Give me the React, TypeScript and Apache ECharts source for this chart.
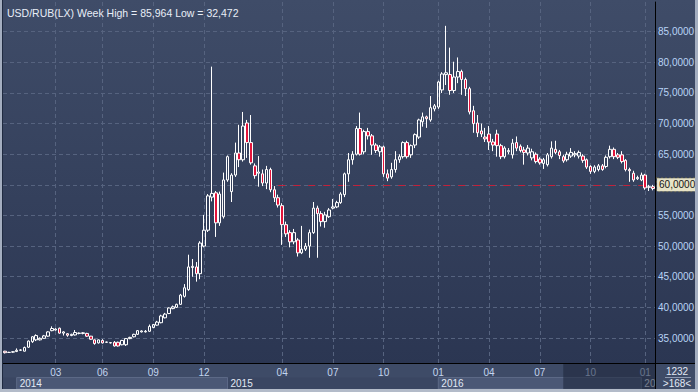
import React, { useEffect, useRef } from 'react';
import * as echarts from 'echarts';

// Weekly USD/RUB candles (open, close, high, low)
const OPEN = [32.85,32.65,32.7,32.8,33,32.85,33.5,34.4,34.7,34.7,34.95,35.3,36.2,36.3,36.6,35.8,35.7,35.4,35.5,35.75,35.75,35.75,35.3,34.7,34.2,34.6,34.3,34.2,34.3,34.3,33.9,33.9,34.9,35.2,35.6,36,36,36.1,36.7,37.1,37.5,38.3,39,39.8,40,40.5,41.8,42.9,46.5,46.6,45.5,50,52.6,58,58.7,53.8,54.8,60.8,58.9,61.6,65.2,64.1,70.1,66.9,63.1,61.9,61.8,60.3,62.5,59.2,57.9,56.6,53.5,52.2,50.7,51,48.9,49.5,50,52.2,56.2,55.3,54,54.8,56.2,56.4,57.1,58.4,61.8,64.1,65,69.2,65.4,68.7,68,66.5,65.4,66.2,61.8,61.3,62.5,64.1,64.6,66.9,64.9,66.5,67.8,70.3,71.1,70.6,72.4,72.7,75.5,78,78,75.4,77.6,78.5,77.2,75.7,72.1,70.1,68.8,67.8,68.3,67,68.3,66.4,64.6,65.4,64.9,66.9,66.3,65.7,65.2,64.4,65,64.2,63.5,63.3,64.6,65.8,65.4,64.6,64.1,64.7,64.9,64.7,64.7,64.1,63,62.2,62.5,63.1,63,64.6,65.8,64.9,64.9,64,62.5,61.9,61,60.8,61.6,59.6,59.7];
const CLOSE = [32.6,32.65,32.75,33,33.05,33.45,34.5,35.2,35.4,34.95,35.35,36,36.55,36.45,35.8,36,35.45,35.6,35.9,35.8,35.85,35.3,34.8,34.1,34.7,34.2,34.35,34.25,33.7,33.7,34.6,34.9,35.1,35.6,36.2,36.15,36.1,36.9,37.2,37.6,38.6,38.9,39.9,40.1,40.5,42,43.2,46.6,46.7,45.5,50.5,52.6,58.2,58.6,53.8,58.5,60.8,64.6,61.6,65.2,64.1,69.6,66.9,63.6,61.5,62.1,60.3,62.5,59.2,57.9,56.7,53.5,52,50.7,52.2,48.9,49.5,50,52.2,56.2,55.3,54,55.1,55.9,56.4,57.1,58.5,61.8,64.1,65,69.2,65,68.7,68,66.5,65.6,66.2,61.8,61.1,62.5,64.1,64.6,66.9,64.6,66.4,68.2,70.6,71.1,70.8,72.6,72.9,76.8,78.1,78.3,75.4,77.6,78.5,77.2,75.7,71.9,70,68.5,68.3,67.5,67,66.5,66.4,64.6,66,65.6,66.8,66,65.6,65.3,66,65.4,63.8,63.6,64.1,64.9,66,65.3,64.8,63.9,65,65.3,65.1,65.3,64,62.9,62.2,62.9,63.1,62.5,64.5,65.8,64.6,64.5,63.8,62.5,62.3,60.8,61.2,61.6,59.5,59.7,59.4];
const HIGH = [32.9,32.75,32.85,33.3,33.15,33.6,34.6,35.3,35.6,35.1,35.5,36.1,36.9,36.6,36.7,36.1,35.8,35.7,36.3,35.9,35.95,35.85,35.35,34.75,34.75,34.8,34.4,34.3,34.5,34.4,34.7,35,35.2,35.7,36.3,36.25,36.3,37.2,37.3,37.8,38.8,39.1,40,40.3,40.6,42.2,43.8,48.6,47.9,47.4,50.8,55.1,58.5,79.3,59,58.9,62,64.8,61.9,66.9,69.8,71.9,70.6,71.4,63.5,64.7,62.5,63.1,62.8,59.8,58.4,57,54,52.6,52.8,51.3,53.3,50.5,52.7,57.2,56.6,55.7,55.6,56.2,57.7,57.4,58.8,62,65.2,65.5,69.6,71.8,69,69.3,68.3,66.8,66.5,66.4,62.5,63.6,65.5,65,67.1,67.2,66.6,68.4,70.8,71.8,71.3,74.5,73.2,77,78.4,85.96,82.4,80.1,80.8,78.8,77.5,76,72.9,71.4,70,69.3,69.6,67.5,69,66.7,66.3,66,67.5,67.9,66.6,66.2,66.5,65.9,65.3,64.5,64.4,65.2,67.1,67.2,65.7,64.9,65.4,66,65.5,65.6,65,64.3,63.2,63.2,63.4,63.4,64.8,66.4,66.1,65.2,65.5,64.2,62.8,62.3,61.5,62,61.8,60,60];
const LOW = [32.47,32.55,32.6,32.7,32.9,32.8,33.4,34.2,34.5,34.6,34.9,35.2,36.1,36.2,35.7,35.4,35.2,35.3,35.4,35.6,35.6,35.2,34.7,33.9,34.1,34.1,34.2,34.1,33.6,33.6,33.8,33.7,34.8,35.1,35.5,35.9,35.9,36,36.6,37,37.4,38.2,38.9,39.7,39.9,40.4,41.6,42.7,45,44.2,44.6,49.8,52.3,57.3,51.5,53.3,54.5,60.5,57.2,61.3,62.9,63.8,64.4,63.3,61,59.7,59.8,59.3,58.8,57.2,56.3,50.2,51.5,49.8,50.3,48.3,48.7,49.2,48.1,52,48.1,53.2,53,54.6,56,56.2,56.9,58,60.5,63.3,64.8,64.8,65,67.4,64.9,65.2,64.6,61.3,60.6,61,62,63.6,64.3,64.3,64.4,66,67.5,69.5,69.3,70.3,72,72.4,75,76.3,74.7,75,76.6,74.7,74.5,71.5,68.5,67.8,67.8,67,65.7,65.5,64.6,64.2,64.3,65,64.3,65.5,65.3,63.3,64.8,64,63.5,63.3,62.6,63,64.3,65,64.2,63.6,63.8,64.4,64.5,64.3,63.6,62.6,61.8,61.9,62.2,62.3,62.7,64.3,64.2,64.2,63.5,62.2,60.5,60.5,60.8,60.6,59.2,59,59.1];

// x-axis tick labels: [week index, label]
const MONTH_TICKS: [number, string][] = [[13,'03'],[25,'06'],[38,'09'],[51,'12'],[71,'04'],[84,'07'],[97,'10'],[111,'01'],[124,'04'],[137,'07'],[150,'10'],[164,'01']];
const YEAR_BANDS: [number, string][] = [[3,'2014'],[57,'2015'],[111,'2016'],[163,'2017']];
const SHADE_START = 143;
const REF_LEVEL = 60;
const REF_START = 70;
const TITLE = 'USD/RUB(LX) Week High = 85,964 Low = 32,472';
const TOTAL_BARS = '1232';
const VISIBLE_BARS = '>168<';

const W = 698;
const H = 392;
const FONT = '"Liberation Sans", Arial, sans-serif';

const fmt = (v: number) => v.toFixed(4).replace('.', ',');

export default function App() {
  const ref = useRef<HTMLDivElement>(null);
  useEffect(() => {
    const el = ref.current!;
    const chart = echarts.init(el, null, { renderer: 'svg', width: W, height: H });
    const categories = OPEN.map((_, i) => String(i));
    const candles = OPEN.map((o, i) => [o, CLOSE[i], LOW[i], HIGH[i]]);
    const last = categories.length - 1;

    chart.setOption({
      animation: false,
      backgroundColor: 'transparent',
      textStyle: { fontFamily: FONT },
      title: {
        text: TITLE,
        left: 2,
        top: 2,
        textStyle: { fontSize: 10.5, fontWeight: 'normal', color: '#e8eef7', fontFamily: FONT },
      },
      grid: { left: 3, right: 43, top: 2, bottom: 29 },
      xAxis: {
        type: 'category',
        data: categories,
        boundaryGap: true,
        axisLine: { show: true, lineStyle: { color: '#000', width: 1 } },
        axisTick: { show: false },
        splitLine: { show: false },
        axisLabel: {
          interval: 0,
          margin: 4,
          fontSize: 10,
          color: '#c3d5ef',
          fontFamily: FONT,
          formatter: (_v: string, idx: number) => {
            const t = MONTH_TICKS.find((m) => m[0] === idx);
            return t ? t[1] : '';
          },
        },
      },
      yAxis: {
        type: 'value',
        position: 'right',
        min: 30.92,
        max: 89.85,
        splitNumber: 12,
        scale: true,
        axisLine: { show: true, lineStyle: { color: '#000', width: 1 } },
        axisTick: { show: false },
        splitLine: { show: true, showMinLine: false, showMaxLine: false, lineStyle: { color: '#56637f', type: [4, 3], width: 1 } },
        axisLabel: {
          margin: 3,
          fontSize: 10,
          color: '#b9d4f6',
          fontFamily: FONT,
          showMinLabel: false,
          showMaxLabel: false,
          formatter: (v: number) => (Math.abs(v % 5) > 0.001 || v === REF_LEVEL ? '' : fmt(v)),
        },
      },
      series: [
        {
          type: 'candlestick',
          data: candles,
          barWidth: 3,
          itemStyle: {
            color: 'transparent',
            color0: '#e3143b',
            borderColor: '#ffffff',
            borderColor0: '#ffffff',
            borderWidth: 1,
          },
          markLine: {
            silent: true,
            z: 1,
            symbol: ['none', 'none'],
            label: { show: false },
            data: [
              ...MONTH_TICKS.map(([i]) => ({
                xAxis: i,
                lineStyle: { color: '#56637f', type: [4, 3], width: 1 },
                label: { show: false },
              })),
              [
                {
                  coord: [REF_START, REF_LEVEL],
                  lineStyle: { color: '#c3213a', type: [7, 8], width: 1 },
                  label: {
                    show: true,
                    position: 'end',
                    distance: 4,
                    formatter: fmt(REF_LEVEL),
                    fontSize: 10,
                    fontFamily: FONT,
                    color: '#151515',
                    backgroundColor: '#e7e3c7',
                    borderColor: '#5d5c4a',
                    borderWidth: 1,
                    borderType: 'dotted',
                    padding: [2, 1, 1, 2],
                  },
                },
                { coord: [last, REF_LEVEL] },
              ],
            ],
          },
        },
      ],
    });

    const px = (i: number) => chart.convertToPixel({ xAxisIndex: 0 }, i) as number;
    const plotRight = W - 43;
    const axisY = H - 29;
    const panelBottom = 389;
    const yearTop = 377.5;

    const graphics: any[] = [
      // bottom panel background
      { type: 'rect', z: -20, silent: true, shape: { x: 0, y: axisY, width: W, height: H - axisY }, style: { fill: '#3e4b67' } },
      { type: 'rect', z: -19, silent: true, shape: { x: 3, y: yearTop, width: plotRight - 3, height: panelBottom - yearTop }, style: { fill: '#3a4662' } },
    ];
    YEAR_BANDS.forEach(([i, label], k) => {
      const x0 = px(i);
      const next = YEAR_BANDS[k + 1];
      const x1 = next ? px(next[0]) : plotRight;
      if (k % 2 === 0) {
        graphics.push({
          type: 'rect', z: -18, silent: true,
          shape: { x: x0, y: yearTop, width: x1 - x0, height: panelBottom - yearTop },
          style: { fill: '#4b5876', stroke: '#5c6986', lineWidth: 1 },
        });
      } else {
        graphics.push({
          type: 'line', z: -18, silent: true,
          shape: { x1: x0, y1: yearTop, x2: x0, y2: panelBottom },
          style: { stroke: '#5c6986', lineWidth: 1 },
        });
      }
      graphics.push({
        type: 'text', z: 4, silent: true, x: x0 + 3, y: (yearTop + panelBottom) / 2 + 0.5,
        style: {
          text: label, fill: '#e2e9f4', fontSize: 10, fontFamily: FONT, verticalAlign: 'middle', align: 'left',
          width: Math.max(8, x1 - x0), overflow: 'truncate', ellipsis: '',
        },
      });
    });
    const sx = px(SHADE_START);
    graphics.push(
      { type: 'rect', z: 8, silent: true, shape: { x: sx, y: axisY + 1, width: plotRight - sx, height: panelBottom - axisY - 1 }, style: { fill: 'rgba(28,36,56,0.55)' } },
      // right box under the value axis
      { type: 'rect', z: 9, silent: true, shape: { x: plotRight + 0.5, y: axisY + 0.5, width: W - plotRight - 3, height: panelBottom - axisY - 0.5 }, style: { fill: '#3e4b67' } },
      { type: 'line', z: 10, silent: true, shape: { x1: plotRight + 10, y1: 377.5, x2: plotRight + 36, y2: 377.5 }, style: { stroke: '#8d99b0', lineWidth: 1 } },
      { type: 'text', z: 10, silent: true, x: plotRight + 22, y: 371.5, style: { text: TOTAL_BARS, fill: '#e2e9f4', fontSize: 10, fontFamily: FONT, align: 'center', verticalAlign: 'middle' } },
      { type: 'text', z: 10, silent: true, x: plotRight + 22, y: 383.5, style: { text: VISIBLE_BARS, fill: '#e2e9f4', fontSize: 10, fontFamily: FONT, align: 'center', verticalAlign: 'middle' } },
      // frame and dividing lines
      { type: 'line', z: 11, silent: true, shape: { x1: 2, y1: axisY + 0.5, x2: W - 3, y2: axisY + 0.5 }, style: { stroke: '#000', lineWidth: 1 } },
      { type: 'line', z: 11, silent: true, shape: { x1: plotRight + 0.5, y1: axisY, x2: plotRight + 0.5, y2: panelBottom }, style: { stroke: '#000', lineWidth: 1 } },
      { type: 'line', z: 11, silent: true, shape: { x1: 2.5, y1: 0, x2: 2.5, y2: panelBottom }, style: { stroke: '#1f2a40', lineWidth: 1 } },
      { type: 'rect', z: 12, silent: true, shape: { x: 0, y: 0, width: 2, height: H }, style: { fill: '#a4aec0' } },
      { type: 'rect', z: 12, silent: true, shape: { x: W - 3, y: 0, width: 3, height: H }, style: { fill: '#a4aec0' } },
      { type: 'rect', z: 12, silent: true, shape: { x: 0, y: panelBottom, width: W, height: H - panelBottom }, style: { fill: '#b3bbc9' } },
    );
    chart.setOption({ graphic: graphics });

    return () => chart.dispose();
  }, []);
  return (
    <div
      ref={ref}
      style={{
        position: 'fixed',
        left: 0,
        top: 0,
        width: W,
        height: H,
        background: 'linear-gradient(to bottom, #3f4c68 0%, #2b3652 93%, #2a3450 100%)',
      }}
    />
  );
}
